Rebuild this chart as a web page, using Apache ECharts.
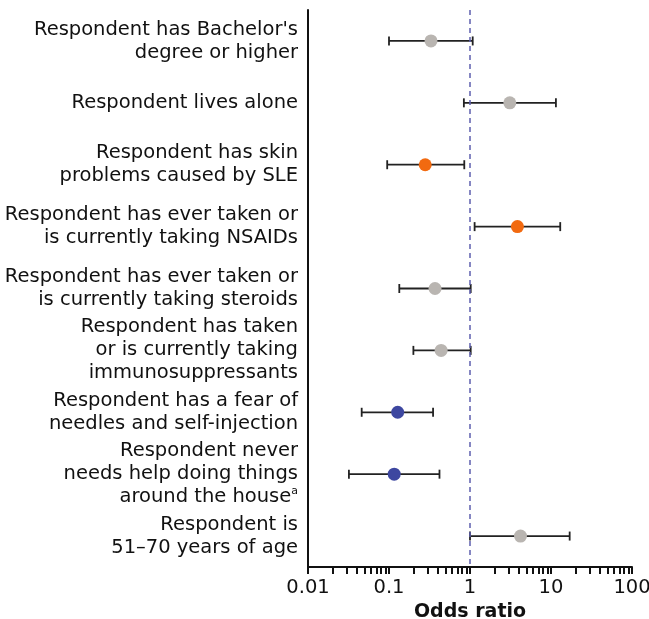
<!DOCTYPE html>
<html>
<head>
<meta charset="utf-8">
<script src="https://cdn.jsdelivr.net/npm/echarts@6/dist/echarts.min.js"></script>
<style>html,body{margin:0;padding:0;background:#fff}#c{width:649px;height:619px}</style>
</head>
<body>
<div id="c"></div>
<script>
const categories = [
  "Respondent has Bachelor's\ndegree or higher",
  "Respondent lives alone",
  "Respondent has skin\nproblems caused by SLE",
  "Respondent has ever taken or\nis currently taking NSAIDs",
  "Respondent has ever taken or\nis currently taking steroids",
  "Respondent has taken\nor is currently taking\nimmunosuppressants",
  "Respondent has a fear of\nneedles and self-injection",
  "Respondent never\nneeds help doing things\naround the house{sup|a}",
  "Respondent is\n51\u201370 years of age"
];
const oddsRatio = [0.33, 3.1, 0.28, 3.85, 0.37, 0.44, 0.128, 0.116, 4.2];
const ciLower   = [0.10, 0.84, 0.095, 1.14, 0.134, 0.20, 0.046, 0.032, 1.0];
const ciUpper   = [1.08, 11.5, 0.85, 13.0, 1.02, 1.02, 0.35, 0.42, 17.0];
const pointGroup = ['ns','ns','neg','pos','ns','ns','prot','prot','ns'];
const groupColors = {ns:'#b9b5b1', neg:'#f26a10', pos:'#f26a10', prot:'#3d47a0'};
const xTickLabels = [0.01, 0.1, 1, 10, 100];
const xMinorTicks = [0.01,0.02,0.03,0.04,0.05,0.06,0.07,0.08,0.09,
  0.1,0.2,0.3,0.4,0.5,0.6,0.7,0.8,0.9,
  1,2,3,4,5,6,7,8,9,
  10,20,30,40,50,60,70,80,90,100];
const refLine = 1;

const chart = echarts.init(document.getElementById('c'));
const font = 'DejaVu Sans, sans-serif';
chart.setOption({
  animation: false,
  grid: {left: 308, right: 17, top: 10, bottom: 52, containLabel: false, outerBoundsMode: 'none'},
  xAxis: {
    type: 'log', logBase: 10, min: 0.01, max: 100,
    name: 'Odds ratio', nameLocation: 'middle', nameGap: 36,
    nameTextStyle: {fontFamily: font, fontSize: 19, fontWeight: 'bold', color: '#111'},
    axisLine: {show: true, onZero: false, lineStyle: {color: '#111', width: 2}},
    axisTick: {show: true, length: 7, lineStyle: {color: '#111', width: 2}, customValues: xMinorTicks},
    axisLabel: {fontFamily: font, fontSize: 19.5, color: '#111', margin: 11,
      customValues: xTickLabels,
      formatter: v => String(v)},
    splitLine: {show: false}, minorTick: {show: false}
  },
  yAxis: {
    type: 'category', data: categories, inverse: true,
    axisLine: {show: true, onZero: false, lineStyle: {color: '#111', width: 2}},
    axisTick: {show: false},
    axisLabel: {fontFamily: font, fontSize: 19.5, color: '#111', margin: 10, align: 'right', lineHeight: 23,
      rich: {sup: {fontFamily: font, fontSize: 11, color: '#111', verticalAlign: 'top', lineHeight: 23, padding: [0,0,8,0]}}},
    splitLine: {show: false}
  },
  series: [
    {
      type: 'custom',
      data: categories.map((c, i) => [ciLower[i], ciUpper[i], i]),
      renderItem: (params, api) => {
        const lo = api.coord([api.value(0), api.value(2)]);
        const hi = api.coord([api.value(1), api.value(2)]);
        const h = 4.5;
        const st = {stroke: '#222', lineWidth: 1.8};
        return {type: 'group', children: [
          {type: 'line', shape: {x1: lo[0], y1: lo[1], x2: hi[0], y2: hi[1]}, style: st},
          {type: 'line', shape: {x1: lo[0], y1: lo[1]-h, x2: lo[0], y2: lo[1]+h}, style: st},
          {type: 'line', shape: {x1: hi[0], y1: hi[1]-h, x2: hi[0], y2: hi[1]+h}, style: st}
        ]};
      },
      encode: {x: [0, 1], y: 2},
      z: 2
    },
    {
      type: 'scatter',
      symbolSize: 13,
      itemStyle: {opacity: 1},
      data: oddsRatio.map((v, i) => ({value: [v, i], itemStyle: {color: groupColors[pointGroup[i]], opacity: 1}})),
      z: 3,
      markLine: {
        silent: true, symbol: 'none', label: {show: false},
        lineStyle: {color: '#5d5fae', type: [5, 4], width: 1.5},
        data: [{xAxis: refLine}]
      }
    }
  ]
});
</script>
</body>
</html>
